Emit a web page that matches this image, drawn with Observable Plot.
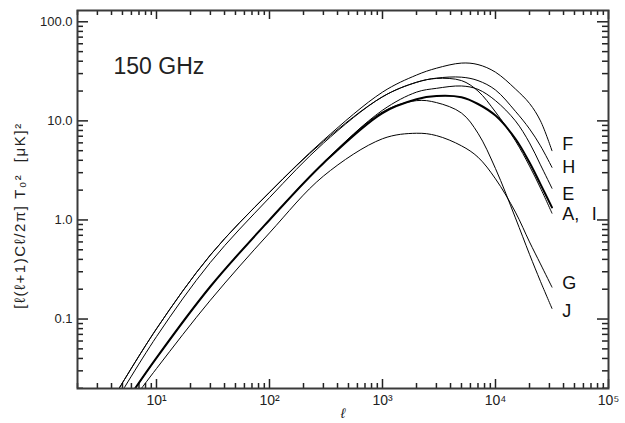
<!DOCTYPE html>
<html><head><meta charset="utf-8">
<script src="https://cdn.jsdelivr.net/npm/d3@7"></script>
<script src="https://cdn.jsdelivr.net/npm/@observablehq/plot@0.6"></script>
<style>body{margin:0;background:#fff} svg{display:block}</style>
</head><body><div id="chart"></div>
<script>
// multipole values at which each curve was read
const ells = [4, 10, 30, 100, 300, 1000, 2000, 3000, 5000, 7000, 10000, 15000, 20000, 25000, 31600];
// curve values [l(l+1)C_l/2pi] T0^2 in uK^2
const seriesF = [0.0149, 0.0797, 0.443, 1.90, 6.37, 19.5, 29, 34, 38.3, 37, 31, 21, 15, 10, 5.0];
const seriesH = [0.0149, 0.0797, 0.443, 1.90, 6.2, 17.5, 24.5, 27, 27.6, 25.5, 20.5, 12.5, 8.3, 5.6, 3.4];
const seriesI = [0.0124, 0.0664, 0.373, 1.68, 5.95, 17.5, 24.5, 26.8, 25.5, 20, 12.3, 6.3, 3.5, 2.1, 1.17];
const seriesE = [0.0089, 0.0405, 0.213, 1.0, 3.8, 12.8, 19.5, 21.3, 22.5, 20.8, 16, 10.0, 6.0, 3.6, 2.09];
const seriesA = [0.0089, 0.0405, 0.213, 1.0, 3.74, 12, 16.5, 17.8, 17.3, 14.8, 11.3, 6.6, 3.8, 2.3, 1.34];
const seriesJ = [0.0089, 0.0405, 0.213, 1.0, 3.74, 12.3, 16, 15.3, 12, 7.5, 3.3, 1.05, 0.45, 0.24, 0.128];
const seriesG = [0.0079, 0.0316, 0.155, 0.74, 2.77, 6.6, 7.5, 7.1, 5.6, 4.3, 2.6, 1.2, 0.6, 0.36, 0.21];

const thinNames = ["F", "H", "I", "E", "J", "G"];
const thinSeries = [seriesF, seriesH, seriesI, seriesE, seriesJ, seriesG];

// axes
const xDomain = [2, 100000];
const yDomain = [0.0199, 130];
const xMajorTicks = [10, 100, 1000, 10000, 100000];
const xTickLabels = ["10¹", "10²", "10³", "10⁴", "10⁵"];
const yMajorTicks = [0.1, 1, 10, 100];
const yTickLabels = ["0.1", "1.0", "10.0", "100.0"];

// curve labels
const labelNames = ["F", "H", "E", "A,", "I", "G", "J"];
const labelEll = [38900, 38900, 38900, 38900, 71100, 38900, 38900];
const labelVal = [5.81, 3.40, 1.83, 1.13, 1.13, 0.228, 0.119];

const panelTitle = "150 GHz";
const xTitle = "ℓ";
const yTitle = "[ℓ(ℓ+1)Cℓ/2π] T₀²  [μK]²";

// minor ticks (2..9 x decade) inside domain
function minorTicks([lo, hi]) {
  const out = [];
  for (let e = Math.floor(Math.log10(lo)); e <= Math.ceil(Math.log10(hi)); e++)
    for (let m = 2; m <= 9; m++) {
      const v = m * Math.pow(10, e);
      if (v >= lo && v <= hi) out.push(v);
    }
  return out;
}
const xMinor = minorTicks(xDomain);
const yMinor = minorTicks(yDomain);

const thinData = [];
thinNames.forEach((n, k) => ells.forEach((l, i) => thinData.push({name: n, ell: l, val: thinSeries[k][i]})));
const thickData = ells.map((l, i) => ({name: "A", ell: l, val: seriesA[i]}));

const W = 625, H = 423, mL = 77, mR = 17, mT = 10, mB = 35;
const frameW = W - mL - mR, frameH = H - mT - mB;
const tickStroke = "#222";
const tickW = 1.5;

const chart = Plot.plot({
  width: W,
  height: H,
  marginLeft: mL,
  marginRight: mR,
  marginTop: mT,
  marginBottom: mB,
  style: {fontFamily: "'Liberation Sans', Arial, sans-serif", background: "white", color: "#222"},
  x: {type: "log", domain: xDomain},
  y: {type: "log", domain: yDomain},
  marks: [
    // inward ticks on all four sides (bottom, top, left, right)
    Plot.tickX(xMajorTicks, {x: d => d, insetTop: frameH - 9, stroke: tickStroke, strokeWidth: tickW}),
    Plot.tickX(xMinor, {x: d => d, insetTop: frameH - 5, stroke: tickStroke, strokeWidth: tickW}),
    Plot.tickX(xMajorTicks, {x: d => d, insetBottom: frameH - 9, stroke: tickStroke, strokeWidth: tickW}),
    Plot.tickX(xMinor, {x: d => d, insetBottom: frameH - 5, stroke: tickStroke, strokeWidth: tickW}),
    Plot.tickY(yMajorTicks, {y: d => d, insetRight: frameW - 11, stroke: tickStroke, strokeWidth: tickW}),
    Plot.tickY(yMinor, {y: d => d, insetRight: frameW - 6, stroke: tickStroke, strokeWidth: tickW}),
    Plot.tickY(yMajorTicks, {y: d => d, insetLeft: frameW - 11, stroke: tickStroke, strokeWidth: tickW}),
    Plot.tickY(yMinor, {y: d => d, insetLeft: frameW - 6, stroke: tickStroke, strokeWidth: tickW}),
    // tick labels
    Plot.axisX(xMajorTicks, {anchor: "bottom", tickSize: 0, tickPadding: 7, fontSize: 14,
      tickFormat: d => xTickLabels[xMajorTicks.indexOf(d)], label: null}),
    Plot.axisY(yMajorTicks, {anchor: "left", tickSize: 0, tickPadding: 5, fontSize: 13,
      tickFormat: d => yTickLabels[yMajorTicks.indexOf(d)], label: null}),
    // curves
    Plot.line(thinData, {x: "ell", y: "val", z: "name", curve: "catmull-rom", stroke: "black", strokeWidth: 1, clip: true}),
    Plot.line(thickData, {x: "ell", y: "val", curve: "catmull-rom", stroke: "black", strokeWidth: 2, clip: true}),
    // curve labels
    Plot.text(labelNames, {x: (d, i) => labelEll[i], y: (d, i) => labelVal[i], text: d => d,
      textAnchor: "start", lineAnchor: "middle", fontSize: 18, fill: "#111"}),
    // titles
    Plot.text([panelTitle], {frameAnchor: "top-left", dx: 36, dy: 56, textAnchor: "start", lineAnchor: "middle", fontSize: 23, fill: "#222"}),
    Plot.text([xTitle], {frameAnchor: "bottom", dy: 25, lineAnchor: "middle", textAnchor: "middle", fontSize: 14, fontStyle: "italic", fill: "#222"}),
    Plot.text([yTitle], {frameAnchor: "left", dx: -57, dy: 16, rotate: -90, textAnchor: "middle", lineAnchor: "middle", fontSize: 15, fill: "#222"}),
    Plot.frame({stroke: "#3a3a3a", strokeWidth: 2})
  ]
});
document.getElementById("chart").append(chart);
// keep the double space in the y title and widen its letter spacing like the original
d3.select(chart).selectAll("text").filter(function() { return this.textContent === yTitle; })
  .style("white-space", "pre").style("letter-spacing", "1.6px");
</script>
</body></html>
